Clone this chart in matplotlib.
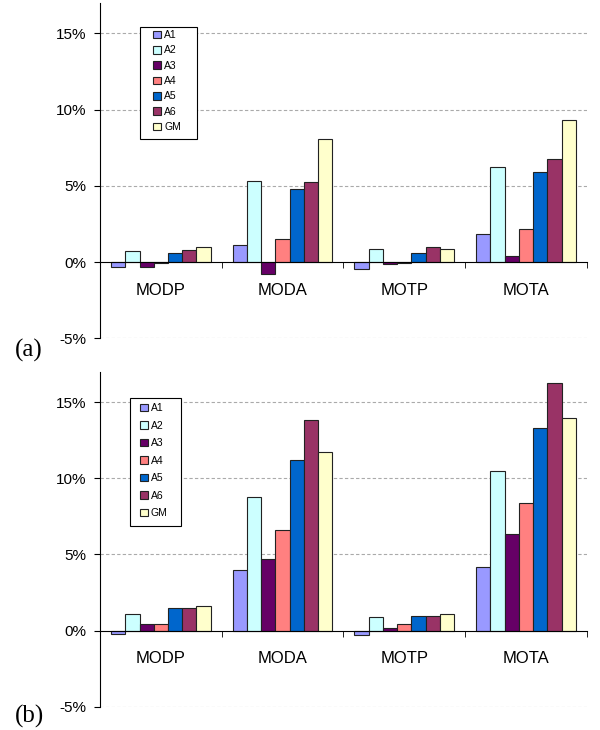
import numpy as np
import matplotlib
matplotlib.use('Agg')
import matplotlib.pyplot as plt
import matplotlib.ticker as mticker
from matplotlib.patches import Rectangle

matplotlib.rcParams.update({'font.family': ['Liberation Sans', 'DejaVu Sans']})

metrics = ['MODP', 'MODA', 'MOTP', 'MOTA']
series = ['A1', 'A2', 'A3', 'A4', 'A5', 'A6', 'GM']
colors = ['#9999FF', '#CCFFFF', '#660066', '#FF8080', '#0066CC', '#993366', '#FFFFCC']

# values in percent, rows = series, cols = metrics
vals_a = [
    [-0.33, 1.10, -0.46, 1.86],   # A1
    [0.75, 5.35, 0.88, 6.23],     # A2
    [-0.30, -0.81, -0.13, 0.39],  # A3
    [-0.05, 1.49, -0.09, 2.17],   # A4
    [0.61, 4.82, 0.61, 5.92],     # A5
    [0.79, 5.28, 0.99, 6.75],     # A6
    [0.96, 8.05, 0.83, 9.34],     # GM
]
vals_b = [
    [-0.22, 3.97, -0.28, 4.19],
    [1.10, 8.75, 0.90, 10.48],
    [0.46, 4.67, 0.18, 6.36],
    [0.44, 6.58, 0.44, 8.36],
    [1.45, 11.20, 0.99, 13.29],
    [1.49, 13.80, 0.99, 16.23],
    [1.60, 11.73, 1.10, 13.93],
]

fig = plt.figure(figsize=(6, 7.3), dpi=100)


def draw_panel(ax, vals, tag, box, leg_anchor, leg_space, tag_y):
    x = np.arange(len(metrics))
    w = 0.117
    for i, name in enumerate(series):
        ax.bar(x + (i - 3) * w, vals[i], width=w, color=colors[i],
               edgecolor='#222222', linewidth=0.8, label=name, zorder=3)
    ax.set_xlim(-0.5, 3.5)
    ax.set_ylim(-5, 17)
    ax.set_yticks([-5, 0, 5, 10, 15])
    ax.yaxis.set_major_formatter(mticker.FuncFormatter(lambda v, p: '%d%%' % v))
    for yv in [-5, 5, 10, 15]:
        ax.axhline(yv, color='#aaaaaa', linestyle=(0, (3, 2)), linewidth=0.8, zorder=1)
    ax.spines['top'].set_visible(False)
    ax.spines['right'].set_visible(False)
    ax.spines['bottom'].set_position(('data', 0))
    ax.spines['bottom'].set_zorder(4)
    ax.set_xticks(x)
    ax.set_xticklabels(metrics, fontsize=12)
    ax.tick_params(axis='x', which='major', length=0, pad=15)
    ax.set_xticks([0.5, 1.5, 2.5, 3.5], minor=True)
    ax.tick_params(axis='x', which='minor', length=4, direction='out')
    ax.tick_params(axis='y', labelsize=11, length=4, direction='out', pad=6)

    # legend frame drawn separately so the padding matches the original
    ax.add_patch(Rectangle((box[0], box[1]), box[2], box[3], transform=ax.transAxes,
                           facecolor='white', edgecolor='black', linewidth=0.8, zorder=5))
    leg = ax.legend(loc='upper left', bbox_to_anchor=leg_anchor, fontsize=7.5,
                    frameon=False, handlelength=0.75, handleheight=0.75,
                    handletextpad=0.3, labelspacing=leg_space, borderpad=0,
                    borderaxespad=0)
    leg.set_zorder(6)
    ax.text(-0.1745, tag_y, tag, transform=ax.transAxes, fontsize=18,
            family='Liberation Serif', ha='left', va='center')


ax1 = fig.add_axes([0.1667, 0.5366, 0.8113, 0.4593])
draw_panel(ax1, vals_a, '(a)', (0.0821, 0.595, 0.117, 0.334), (0.109, 0.919), 0.51, -0.035)
ax2 = fig.add_axes([0.1667, 0.0319, 0.8113, 0.4589])
draw_panel(ax2, vals_b, '(b)', (0.0616, 0.5394, 0.1047, 0.3821), (0.0821, 0.9066), 0.72, -0.028)

fig.savefig('out.png', dpi=100)
